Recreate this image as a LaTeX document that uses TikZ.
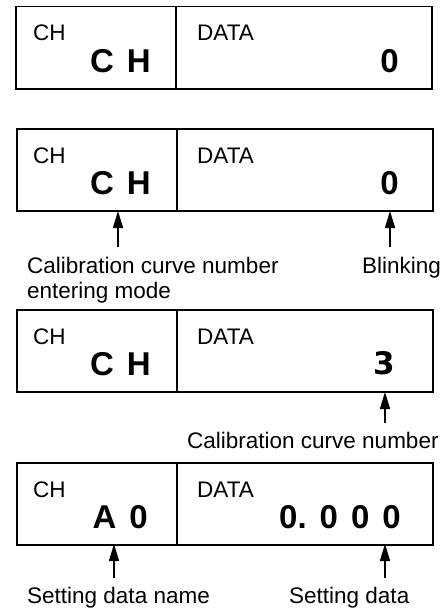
\documentclass[tikz,border=0pt]{standalone}
\usepackage{fontspec}
\setmainfont{Liberation Sans}
\newfontfamily\segfont{DejaVu Sans}
\usetikzlibrary{arrows.meta}
\newcommand{\dgap}{\hspace{13pt}}

\begin{document}
\begin{tikzpicture}[x=1pt, y=-1pt,
  chfield/.style={draw, line width=1.5pt, anchor=north west, inner sep=0pt,
    minimum width=160pt, minimum height=82pt},
  datafield/.style={chfield, minimum width=256pt},
  tag/.style={anchor=base west, inner sep=0pt, font=\fontsize{22.5}{26}\selectfont},
  big/.style={anchor=base east, inner sep=0pt, font=\fontsize{33}{36}\selectfont\bfseries},
  note/.style={anchor=base west, inner sep=0pt, align=left,
    font=\fontsize{22.5}{25}\selectfont},
  up/.style={-{Triangle[width=10pt,length=17pt]}, line width=1.5pt, shorten <=9pt}]
  \useasboundingbox (0,0) rectangle (445,610);
  % display 1: top at y=6
  \node[chfield] (ch1) at (15,6) {};
  \node[datafield] (da1) at (175,6) {};
  \node[tag] (ch1tag) at (33,41) {CH};
  \node[tag] (da1tag) at (197,41) {DATA};
  \node[big] (ch1val) at (151,72) {C\dgap H};
  \node[big] (da1val) at (399,72) {0};
  % display 2: top at y=128
  \node[chfield] (ch2) at (16,128) {};
  \node[datafield] (da2) at (176,128) {};
  \node[tag] (ch2tag) at (33,163) {CH};
  \node[tag] (da2tag) at (197,163) {DATA};
  \node[big] (ch2val) at (151,194) {C\dgap H};
  \node[big] (da2val) at (399,194) {0};
  % display 3: top at y=309
  \node[chfield] (ch3) at (16,309) {};
  \node[datafield] (da3) at (176,309) {};
  \node[tag] (ch3tag) at (33,344) {CH};
  \node[tag] (da3tag) at (197,344) {DATA};
  \node[big] (ch3val) at (151,375) {C\dgap H};
  \node[big, font=\fontsize{31}{36}\selectfont\segfont\bfseries] (da3val) at (395,374) {3};
  % display 4: top at y=462
  \node[chfield] (ch4) at (16,462) {};
  \node[datafield] (da4) at (176,462) {};
  \node[tag] (ch4tag) at (33,497) {CH};
  \node[tag] (da4tag) at (197,497) {DATA};
  \node[big] (ch4val) at (148,528) {A\dgap 0};
  \node[big] (da4val) at (401,528) {0.\dgap 0\dgap 0\dgap 0};
  % arrow ends on the lower edges
  \coordinate (p2l) at (118,211);
  \coordinate (p2r) at (390,211);
  \coordinate (p3r) at (385,392);
  \coordinate (p4l) at (114,544);
  \coordinate (p4r) at (385,544);
  % explanations (base of a two-line node is its last line)
  \node[note] (mode) at (27,298) {Calibration curve number\\entering mode};
  \node[note] (blink) at (362,273) {Blinking};
  \node[note] (curve) at (187,448) {Calibration curve number};
  \node[note] (dname) at (27,603) {Setting data name};
  \node[note] (dval) at (289,603) {Setting data};
  \draw[up] (p2l |- mode.north) -- (p2l);
  \draw[up] (p2r |- blink.north) -- (p2r);
  \draw[up] (p3r |- curve.north) -- (p3r);
  \draw[up] (p4l |- dname.north) -- (p4l);
  \draw[up] (p4r |- dval.north) -- (p4r);
\end{tikzpicture}
\end{document}
